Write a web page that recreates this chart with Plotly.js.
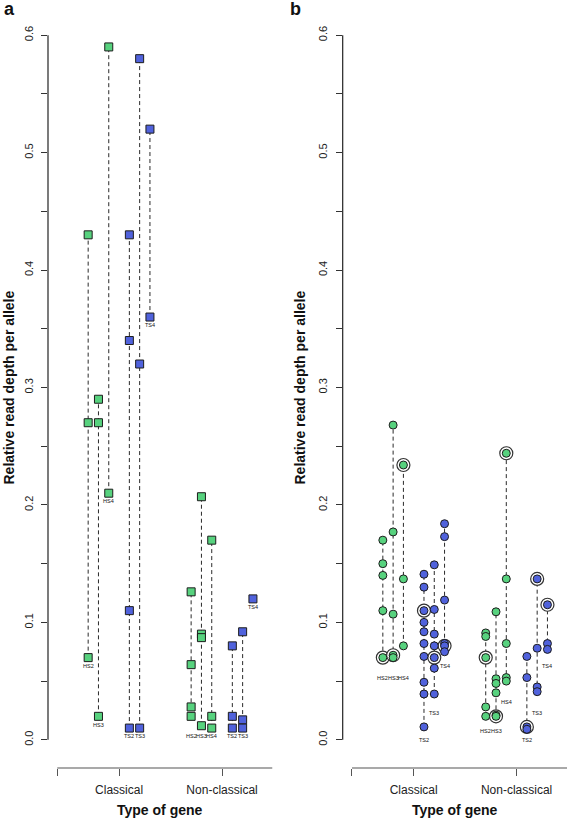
<!DOCTYPE html>
<html>
<head>
<meta charset="utf-8">
<script src="https://cdn.plot.ly/plotly-3.0.1.min.js"></script>
<style>html,body{margin:0;padding:0;background:#fff;}#chart{width:567px;height:818px;}</style>
</head>
<body>
<div id="chart"></div>
<script>
// ---------- data ----------
const categories = ['Classical', 'Non-classical'];
const groups = ['HS2', 'HS3', 'HS4', 'TS2', 'TS3', 'TS4'];

// Panel a (values per group, order = groups)
const aClassical = [
  [0.43, 0.27, 0.07],
  [0.29, 0.27, 0.02],
  [0.59, 0.21],
  [0.43, 0.34, 0.11, 0.01],
  [0.58, 0.32, 0.01],
  [0.52, 0.36]
];
const aNonClassical = [
  [0.126, 0.064, 0.028, 0.02],
  [0.207, 0.09, 0.087, 0.012],
  [0.17, 0.02, 0.01],
  [0.08, 0.02, 0.01],
  [0.092, 0.017, 0.01],
  [0.12]
];
// Panel b
const bClassical = [
  [0.17, 0.15, 0.14, 0.11, 0.07],
  [0.268, 0.177, 0.107, 0.072, 0.070],
  [0.234, 0.137, 0.080],
  [0.141, 0.130, 0.110, 0.100, 0.092, 0.082, 0.071, 0.049, 0.039, 0.011],
  [0.149, 0.111, 0.090, 0.080, 0.070, 0.061, 0.039],
  [0.184, 0.173, 0.119, 0.082, 0.080, 0.075]
];
const bNonClassical = [
  [0.091, 0.088, 0.070, 0.028, 0.020],
  [0.109, 0.052, 0.048, 0.040, 0.021, 0.020],
  [0.244, 0.137, 0.082, 0.053, 0.050],
  [0.071, 0.053, 0.011, 0.009],
  [0.137, 0.078, 0.045, 0.041],
  [0.115, 0.082, 0.077]
];
// circled values in panel b
const bClassicalCircled = [0.070, 0.072, 0.234, 0.110, 0.070, 0.080];
const bNonClassicalCircled = [0.070, 0.020, 0.244, 0.011, 0.137, 0.115];

// label anchor values (below each column)
const aLabelY = [[0.063, 0.013, 0.203, 0.003, 0.003, 0.353], [0.003, 0.003, 0.003, 0.003, 0.003, 0.113]];
const bLabelY = [[0.053, 0.053, 0.053, 0.0, 0.023, 0.0625], [0.0077, 0.0077, 0.032, 0.0, 0.023, 0.0625]];

const yTickVals = [0, 0.05, 0.1, 0.15, 0.2, 0.25, 0.3, 0.35, 0.4, 0.45, 0.5, 0.55, 0.6];
const yTickText = ['0.0', '', '0.1', '', '0.2', '', '0.3', '', '0.4', '', '0.5', '', '0.6'];

// ---------- styling ----------
const GREEN = '#57d27e';
const BLUE = '#5062dc';
const EDGE = '#1c1c1c';
const groupOffset = [-0.3, -0.2, -0.1, 0.1, 0.2, 0.3];
const FONT = 'Liberation Sans, Arial, Helvetica, sans-serif';

const traces = [];
const annotations = [];

function buildPanel(catData, xa, ya, symbol, size, circled, labelY) {
  const lx = [], ly = [];
  const gx = [], gy = [], bx = [], by = [];
  const rx = [], ry = [];
  catData.forEach((cat, ci) => {
    cat.forEach((vals, gi) => {
      const x = ci + 1 + groupOffset[gi];
      if (vals.length > 1) {
        lx.push(x, x, null);
        ly.push(Math.min(...vals), Math.max(...vals), null);
      }
      vals.forEach(v => {
        if (gi < 3) { gx.push(x); gy.push(v); } else { bx.push(x); by.push(v); }
      });
      if (circled) { rx.push(x); ry.push(circled[ci][gi]); }
      annotations.push({
        xref: xa, yref: ya, x: x, y: labelY[ci][gi], text: groups[gi],
        showarrow: false, font: {family: FONT, size: 5.5, color: '#111'},
        xanchor: 'center', yanchor: 'middle'
      });
    });
  });
  traces.push({x: lx, y: ly, xaxis: xa, yaxis: ya, mode: 'lines', type: 'scatter',
    line: {color: '#2a2a2a', width: 1, dash: '4px,3px'}, hoverinfo: 'skip', showlegend: false});
  if (circled) {
    traces.push({x: rx, y: ry, xaxis: xa, yaxis: ya, mode: 'markers', type: 'scatter',
      marker: {symbol: 'circle', size: 13, color: '#ffffff', line: {color: '#333', width: 1.2}},
      hoverinfo: 'skip', showlegend: false, cliponaxis: false});
  }
  traces.push({x: gx, y: gy, xaxis: xa, yaxis: ya, mode: 'markers', type: 'scatter',
    marker: {symbol: symbol, size: size, color: GREEN, line: {color: EDGE, width: 1}},
    hoverinfo: 'skip', showlegend: false, cliponaxis: false});
  traces.push({x: bx, y: by, xaxis: xa, yaxis: ya, mode: 'markers', type: 'scatter',
    marker: {symbol: symbol, size: size, color: BLUE, line: {color: EDGE, width: 1}},
    hoverinfo: 'skip', showlegend: false, cliponaxis: false});
}

buildPanel([aClassical, aNonClassical], 'x', 'y', 'square', 8, null, aLabelY);
buildPanel([bClassical, bNonClassical], 'x2', 'y2', 'circle', 8,
  [bClassicalCircled, bNonClassicalCircled], bLabelY);

// ---------- layout ----------
const W = 567, H = 818, MT = 7, MB = 50;
const px = p => p / W;
const py = p => (H - MB - p) / (H - MT - MB);

function xAxis(domain, anchor) {
  return {
    domain: domain, anchor: anchor, range: [0.31, 2.49],
    tickmode: 'array', tickvals: [0.4, 1, 2], ticktext: ['', categories[0], categories[1]],
    ticks: 'outside', ticklen: 7, tickwidth: 1, tickcolor: '#555',
    showline: false, showgrid: false, zeroline: false,
    tickfont: {family: FONT, size: 12, color: '#222'}, ticklabelstandoff: 4
  };
}
function yAxis(anchor) {
  return {
    domain: [0, 1], anchor: anchor, range: [-0.024, 0.624],
    tickmode: 'array', tickvals: yTickVals, ticktext: yTickText,
    ticks: 'outside', ticklen: 6, tickwidth: 1, tickcolor: '#333', tickangle: -90,
    showline: false, showgrid: false, zeroline: false,
    tickfont: {family: FONT, size: 11, color: '#222'}, ticklabelstandoff: 4
  };
}

const shapes = [];
[['x', 'y'], ['x2', 'y2']].forEach(([xa, ya]) => {
  shapes.push({type: 'line', xref: xa, yref: ya + ' domain', x0: 0.4, x1: 2.49, y0: 0, y1: 0,
    line: {color: '#555', width: 1.2}});
  shapes.push({type: 'line', xref: xa + ' domain', yref: ya, x0: 0, x1: 0, y0: 0, y1: 0.6,
    line: {color: '#222', width: 1.2}});
});

const titleFont = {family: FONT, size: 14, color: '#111', weight: 'bold'};
annotations.push(
  {xref: 'paper', yref: 'paper', x: px(9), y: py(9), text: '<b>a</b>', showarrow: false,
   font: {family: FONT, size: 18, color: '#111'}, xanchor: 'center', yanchor: 'middle'},
  {xref: 'paper', yref: 'paper', x: px(295), y: py(9), text: '<b>b</b>', showarrow: false,
   font: {family: FONT, size: 18, color: '#111'}, xanchor: 'center', yanchor: 'middle'},
  {xref: 'paper', yref: 'paper', x: px(8), y: py(387.5), text: '<b>Relative read depth per allele</b>',
   textangle: -90, showarrow: false, font: titleFont, xanchor: 'center', yanchor: 'middle'},
  {xref: 'paper', yref: 'paper', x: px(299), y: py(387.5), text: '<b>Relative read depth per allele</b>',
   textangle: -90, showarrow: false, font: titleFont, xanchor: 'center', yanchor: 'middle'},
  {xref: 'paper', yref: 'paper', x: px(160), y: py(810), text: '<b>Type of gene</b>',
   showarrow: false, font: titleFont, xanchor: 'center', yanchor: 'middle'},
  {xref: 'paper', yref: 'paper', x: px(455), y: py(810), text: '<b>Type of gene</b>',
   showarrow: false, font: titleFont, xanchor: 'center', yanchor: 'middle'}
);

const layout = {
  width: W, height: H,
  margin: {l: 0, r: 0, t: MT, b: MB, pad: 0},
  paper_bgcolor: '#fff', plot_bgcolor: '#fff',
  showlegend: false,
  xaxis: xAxis([px(48), px(272.5)], 'y'),
  yaxis: yAxis('x'),
  xaxis2: xAxis([px(342.7), 1], 'y2'),
  yaxis2: yAxis('x2'),
  shapes: shapes,
  annotations: annotations
};

Plotly.newPlot('chart', traces, layout, {staticPlot: true, displayModeBar: false});
</script>
</body>
</html>
